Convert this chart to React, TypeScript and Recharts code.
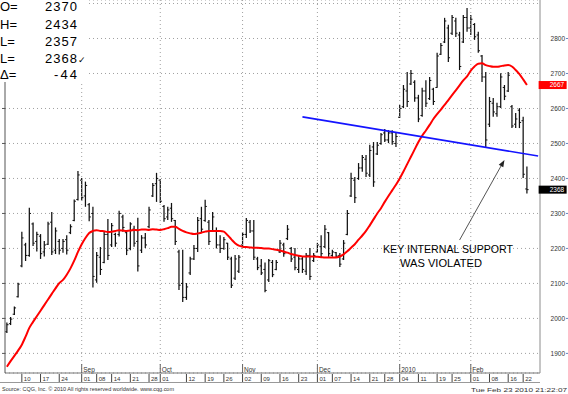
import React from 'react';
import {
  ComposedChart,
  Bar,
  Line,
  XAxis,
  YAxis,
  CartesianGrid,
  ReferenceLine,
  ReferenceDot,
} from 'recharts';

// trading days per month (Aug 2009 - Feb 2010)
const augDays = [4, 5, 6, 7, 10, 11, 12, 13, 14, 17, 18, 19, 20, 21, 24, 25, 26, 27, 28, 31];
const sepDays = [1, 2, 3, 4, 8, 9, 10, 11, 14, 15, 16, 17, 18, 21, 22, 23, 24, 25, 28, 29, 30];
const octDays = [1, 2, 5, 6, 7, 8, 9, 12, 13, 14, 15, 16, 19, 20, 21, 22, 23, 26, 27, 28, 29, 30];
const novDays = [2, 3, 4, 5, 6, 9, 10, 11, 12, 13, 16, 17, 18, 19, 20, 23, 24, 25, 27, 30];
const decDays = [1, 2, 3, 4, 7, 8, 9, 10, 11, 14, 15, 16, 17, 18, 21, 22, 23, 24, 28, 29, 30, 31];
const janDays = [4, 5, 6, 7, 8, 11, 12, 13, 14, 15, 19, 20, 21, 22, 25, 26, 27, 28, 29];
const febDays = [1, 2, 3, 4, 5, 8, 9, 10, 11, 12, 16, 17, 18, 19, 22, 23];

const highs = [
  1988, 2004, 2034, 2102, 2248, 2216, 2316, 2274, 2248, 2241,
  2221, 2276, 2304, 2260, 2227, 2227, 2238, 2269, 2340, 2421,
  2401, 2391, 2330, 2319, 2190, 2204, 2250, 2284, 2273, 2245,
  2308, 2296, 2248, 2275, 2265, 2288, 2238, 2244, 2319, 2387,
  2416, 2398, 2324, 2319, 2330, 2281, 2196, 2196, 2101, 2176,
  2210, 2290, 2319, 2339, 2281, 2304, 2260, 2238, 2233, 2216,
  2176, 2181, 2181, 2247, 2287, 2281, 2281, 2176, 2170, 2160,
  2170, 2167, 2167, 2224, 2216, 2267, 2204, 2201, 2181, 2176,
  2187, 2201, 2187, 2216, 2238, 2267, 2247, 2196, 2190, 2187,
  2224, 2310, 2416, 2404, 2444, 2467, 2467, 2496, 2504, 2504,
  2530, 2541, 2538, 2538, 2533, 2610, 2667, 2704, 2710, 2681,
  2639, 2659, 2681, 2690, 2659, 2759, 2787, 2859, 2839, 2867,
  2859, 2819, 2867, 2887, 2867, 2844, 2819, 2753, 2704, 2633,
  2630, 2616, 2701, 2667, 2704, 2610, 2587, 2601, 2576, 2434,
];

const lows = [
  1958, 1981, 2010, 2060, 2146, 2164, 2176, 2207, 2191, 2170,
  2177, 2210, 2181, 2184, 2183, 2188, 2183, 2241, 2278, 2337,
  2337, 2319, 2278, 2088, 2102, 2124, 2158, 2167, 2204, 2205,
  2234, 2248, 2181, 2195, 2205, 2134, 2187, 2201, 2258, 2347,
  2333, 2330, 2276, 2281, 2276, 2210, 2081, 2047, 2053, 2124,
  2167, 2190, 2247, 2276, 2210, 2247, 2200, 2187, 2196, 2167,
  2087, 2110, 2130, 2204, 2230, 2244, 2167, 2138, 2124, 2075,
  2104, 2118, 2138, 2187, 2176, 2224, 2161, 2138, 2130, 2130,
  2124, 2110, 2161, 2187, 2173, 2201, 2176, 2176, 2173, 2147,
  2167, 2238, 2347, 2330, 2396, 2419, 2404, 2404, 2376, 2467,
  2496, 2504, 2501, 2496, 2490, 2573, 2601, 2604, 2667, 2619,
  2561, 2576, 2604, 2624, 2610, 2659, 2753, 2787, 2733, 2810,
  2804, 2710, 2787, 2819, 2810, 2796, 2759, 2676, 2490, 2547,
  2576, 2576, 2601, 2624, 2647, 2544, 2544, 2544, 2401, 2357,
];

const opens = [
  1962, 1985, 2012, 2062, 2150, 2210, 2180, 2270, 2220, 2235,
  2190, 2212, 2275, 2195, 2220, 2200, 2225, 2245, 2280, 2340,
  2395, 2350, 2325, 2300, 2110, 2175, 2160, 2240, 2210, 2240,
  2240, 2290, 2245, 2200, 2255, 2220, 2195, 2230, 2262, 2350,
  2385, 2395, 2320, 2290, 2315, 2280, 2190, 2100, 2060, 2130,
  2170, 2200, 2285, 2280, 2275, 2250, 2250, 2210, 2200, 2215,
  2170, 2115, 2135, 2210, 2240, 2275, 2250, 2170, 2150, 2140,
  2110, 2160, 2140, 2190, 2210, 2228, 2200, 2175, 2140, 2170,
  2135, 2180, 2165, 2190, 2205, 2205, 2245, 2180, 2188, 2180,
  2170, 2240, 2350, 2395, 2400, 2430, 2455, 2410, 2490, 2470,
  2500, 2530, 2510, 2530, 2500, 2575, 2605, 2650, 2670, 2675,
  2630, 2580, 2650, 2628, 2655, 2660, 2755, 2790, 2830, 2815,
  2850, 2810, 2790, 2860, 2830, 2840, 2810, 2750, 2690, 2555,
  2615, 2585, 2605, 2660, 2650, 2605, 2555, 2595, 2565, 2370,
];

const closes = [
  1982, 1998, 2030, 2098, 2230, 2180, 2300, 2215, 2240, 2185,
  2210, 2270, 2190, 2250, 2195, 2220, 2195, 2262, 2335, 2410,
  2345, 2380, 2290, 2120, 2180, 2140, 2240, 2180, 2265, 2215,
  2300, 2260, 2195, 2270, 2215, 2150, 2230, 2210, 2310, 2380,
  2400, 2335, 2285, 2310, 2285, 2220, 2095, 2060, 2090, 2170,
  2200, 2280, 2255, 2320, 2220, 2290, 2210, 2200, 2225, 2175,
  2095, 2170, 2175, 2240, 2280, 2250, 2175, 2145, 2130, 2080,
  2165, 2125, 2160, 2215, 2185, 2255, 2170, 2145, 2170, 2140,
  2180, 2120, 2180, 2210, 2185, 2255, 2185, 2190, 2178, 2155,
  2215, 2300, 2400, 2345, 2430, 2460, 2415, 2480, 2390, 2495,
  2525, 2510, 2530, 2505, 2520, 2600, 2655, 2620, 2700, 2630,
  2570, 2650, 2615, 2680, 2620, 2750, 2780, 2850, 2745, 2860,
  2815, 2720, 2860, 2830, 2855, 2805, 2765, 2690, 2510, 2620,
  2590, 2605, 2690, 2635, 2695, 2550, 2570, 2560, 2412, 2368,
];

// red moving average
const avg21 = [
  1862, 1878, 1893, 1908, 1925, 1948, 1973, 1990, 2006, 2022,
  2038, 2054, 2070, 2086, 2101, 2110, 2125, 2143, 2165, 2190,
  2212, 2230, 2244, 2250, 2252, 2250, 2249, 2247, 2248, 2250,
  2252, 2251, 2250, 2251, 2253, 2252, 2254, 2254, 2253, 2255,
  2254, 2253, 2255, 2258, 2262, 2262, 2256, 2250, 2246, 2243,
  2241, 2243, 2245, 2248, 2250, 2250, 2250, 2250, 2248, 2238,
  2226, 2215, 2208, 2205, 2204, 2203, 2202, 2202, 2201, 2200,
  2200, 2198, 2196, 2194, 2191, 2188, 2184, 2181, 2179, 2177,
  2177, 2177, 2177, 2176, 2175, 2174, 2174, 2174, 2174, 2177,
  2183, 2192, 2202, 2212, 2225, 2237, 2250, 2266, 2283, 2300,
  2315, 2333, 2350, 2366, 2382, 2400, 2420, 2441, 2462, 2483,
  2504, 2522, 2537, 2553, 2570, 2584, 2597, 2610, 2624, 2638,
  2652, 2666, 2680, 2692, 2708, 2720, 2728, 2729, 2724, 2721,
  2719, 2719, 2721, 2723, 2724, 2720, 2710, 2698, 2683, 2667,
];

const spareSlots = ['pad1', 'pad2', 'pad3'];

const dayTickLabels = [
  'Aug 10', 'Aug 17', 'Aug 24', 'Sep 01', 'Sep 08', 'Sep 14', 'Sep 21', 'Sep 28',
  'Oct 01', 'Oct 12', 'Oct 19', 'Oct 26', 'Nov 02', 'Nov 09', 'Nov 16', 'Nov 23',
  'Dec 01', 'Dec 07', 'Dec 14', 'Dec 21', 'Dec 28', 'Jan 04', 'Jan 11', 'Jan 19',
  'Jan 25', 'Feb 01', 'Feb 08', 'Feb 16', 'Feb 22',
];
const monthStarts = ['Sep 01', 'Oct 01', 'Nov 02', 'Dec 01', 'Jan 04', 'Feb 01'];
const monthNames = ['Sep', 'Oct', 'Nov', 'Dec', '2010', 'Feb'];

const gridTicks = [
  1850, 1900, 1950, 2000, 2050, 2100, 2150, 2200, 2250, 2300, 2350,
  2400, 2450, 2500, 2550, 2600, 2650, 2700, 2750, 2800, 2850, 2900,
];
const priceTicks = [1900, 2000, 2100, 2200, 2300, 2400, 2500, 2600, 2700, 2800];

const supportLine = [
  { x: 'Nov 24', y: 2576 },
  { x: 'pad3', y: 2464 },
];
const arrowLine = [
  { x: 'Jan 27', y: 2224 },
  { x: 'Feb 12', y: 2453 },
];

const lastAvg = 2667;
const lastClose = 2368;

const pad = (d: number) => (d < 10 ? '0' + d : String(d));
const tradingDates = [
  ...augDays.map((d) => 'Aug ' + pad(d)),
  ...sepDays.map((d) => 'Sep ' + pad(d)),
  ...octDays.map((d) => 'Oct ' + pad(d)),
  ...novDays.map((d) => 'Nov ' + pad(d)),
  ...decDays.map((d) => 'Dec ' + pad(d)),
  ...janDays.map((d) => 'Jan ' + pad(d)),
  ...febDays.map((d) => 'Feb ' + pad(d)),
];

const rows: any[] = [
  ...tradingDates.map((date, i) => ({
    date,
    range: [lows[i], highs[i]],
    high: highs[i],
    low: lows[i],
    open: opens[i],
    close: closes[i],
    avg: avg21[i],
  })),
  ...spareSlots.map((date) => ({ date })),
];

const FONT = '"Liberation Sans", Arial, sans-serif';
const DOMAIN: [number, number] = [1844, 2910];

const OhlcBar = (props: any) => {
  const { x, y, width, height, payload } = props;
  if (!payload || payload.high == null) return <g />;
  const top = Math.min(y, y + height);
  const bottom = Math.max(y, y + height);
  const k = (bottom - top) / (payload.high - payload.low || 1);
  const cx = x + width / 2;
  const yo = top + (payload.high - payload.open) * k;
  const yc = top + (payload.high - payload.close) * k;
  return (
    <g stroke="#111" strokeWidth={1.25}>
      <line x1={cx} x2={cx} y1={top} y2={bottom} />
      <line x1={cx - 1.7} x2={cx} y1={yo} y2={yo} strokeWidth={1} />
      <line x1={cx} x2={cx + 1.7} y1={yc} y2={yc} strokeWidth={1} />
    </g>
  );
};

const DateTick = (props: any) => {
  const { x, y, payload } = props;
  const v = payload.value;
  const m = monthStarts.indexOf(v);
  const isDay = dayTickLabels.includes(v);
  return (
    <g fontFamily={FONT} fill="#333">
      {isDay && (
        <>
          <line x1={x} x2={x} y1={y + 1} y2={y + 9} stroke="#444" />
          <text x={x + 2} y={y + 7.5} fontSize={6}>
            {v.slice(4)}
          </text>
        </>
      )}
      {m >= 0 && (
        <>
          <line x1={x} x2={x} y1={y - 9} y2={y} stroke="#666" />
          <text x={x + 1.5} y={y - 1.5} fontSize={6.5}>
            {monthNames[m]}
          </text>
        </>
      )}
    </g>
  );
};

const PriceTick = (props: any) => {
  const { x, y, payload } = props;
  return (
    <g>
      <text x={x + 25} y={y + 2.3} fontSize={6.5} fontFamily={FONT} fill="#333" textAnchor="end">
        {payload.value}
      </text>
      <line x1={x + 26} x2={x + 28} y1={y} y2={y} stroke="#6a86c0" />
    </g>
  );
};

const NoTick = () => <g />;

const priceBox = (fill: string, value: number) => (p: any) => (
  <g>
    <rect x={p.cx + 0.5} y={p.cy - 4} width={28} height={8} fill={fill} />
    <text x={p.cx + 26} y={p.cy + 2.4} fontSize={6.5} fontFamily={FONT} fill="#fff" textAnchor="end">
      {value}
    </text>
  </g>
);

const ArrowShape = (p: any) => {
  const { x1, y1, x2, y2 } = p;
  const ang = Math.atan2(y2 - y1, x2 - x1);
  const len = 7;
  const w = 2.6;
  const bx = x2 - len * Math.cos(ang);
  const by = y2 - len * Math.sin(ang);
  const nx = -Math.sin(ang) * w;
  const ny = Math.cos(ang) * w;
  return (
    <g>
      <line x1={x1} y1={y1} x2={bx} y2={by} stroke="#555" strokeWidth={1} />
      <polygon points={`${x2},${y2} ${bx + nx},${by + ny} ${bx - nx},${by - ny}`} fill="#222" />
    </g>
  );
};

const NoteShape = (p: any) => (
  <g fontFamily={FONT} fontSize={11} fill="#000">
    <text x={p.cx + 2} y={p.cy} textLength={130} lengthAdjust="spacingAndGlyphs">
      KEY INTERNAL SUPPORT
    </text>
    <text x={p.cx + 19} y={p.cy + 14} textLength={82} lengthAdjust="spacingAndGlyphs">
      WAS VIOLATED
    </text>
  </g>
);

export default function App() {
  return (
    <div style={{ position: 'absolute', left: 0, top: 0, width: 568, height: 394, background: '#fff' }}>
      <ComposedChart
        width={568}
        height={394}
        data={rows}
        margin={{ top: 0, right: 0, bottom: 10, left: 0 }}
      >
        <CartesianGrid yAxisId="l" vertical={false} stroke="#a0a0a0" strokeDasharray="1 3" />
        <XAxis
          dataKey="date"
          interval={0}
          tickLine={false}
          tickSize={0}
          tickMargin={0}
          height={11}
          axisLine={{ stroke: '#777' }}
          tick={DateTick}
        />
        <YAxis
          yAxisId="l"
          orientation="left"
          width={5}
          type="number"
          domain={DOMAIN}
          allowDataOverflow
          ticks={gridTicks}
          tick={NoTick}
          tickSize={3}
          tickLine={{ stroke: '#555' }}
          axisLine={{ stroke: '#555' }}
        />
        <YAxis
          yAxisId="r"
          orientation="right"
          width={28}
          type="number"
          domain={DOMAIN}
          allowDataOverflow
          ticks={priceTicks}
          tick={PriceTick}
          tickLine={false}
          tickSize={0}
          tickMargin={0}
          axisLine={{ stroke: '#8c8c8c' }}
        />
        {monthStarts.map((d) => (
          <ReferenceLine key={d} yAxisId="l" x={d} stroke="#a0a0a0" strokeDasharray="1 3" />
        ))}
        <Bar yAxisId="l" dataKey="range" shape={OhlcBar} isAnimationActive={false} />
        <Line
          yAxisId="l"
          dataKey="avg"
          type="monotone"
          stroke="#ff0000"
          strokeWidth={2}
          dot={false}
          isAnimationActive={false}
        />
        <ReferenceLine yAxisId="l" segment={supportLine} stroke="#1414ff" strokeWidth={1.6} ifOverflow="visible" />
        <ReferenceLine yAxisId="l" segment={arrowLine} shape={ArrowShape} ifOverflow="visible" />
        <ReferenceDot yAxisId="l" x="Dec 24" y={2186} r={0} shape={NoteShape} ifOverflow="visible" />
        <ReferenceDot yAxisId="r" x="pad3" y={lastAvg} r={0} shape={priceBox('#ff0000', lastAvg)} ifOverflow="visible" />
        <ReferenceDot yAxisId="r" x="pad3" y={lastClose} r={0} shape={priceBox('#000000', lastClose)} ifOverflow="visible" />
      </ComposedChart>
      <svg
        width={568}
        height={394}
        style={{ position: 'absolute', left: 0, top: 0, pointerEvents: 'none' }}
        fontFamily={FONT}
      >
        <rect x={0} y={0} width={86} height={82} fill="#fff" />
        <g fontSize={13} fill="#000">
          <text x={0} y={11}>O=</text>
          <text x={77} y={11} textAnchor="end" textLength={32}>2370</text>
          <text x={0} y={28.5}>H=</text>
          <text x={77} y={28.5} textAnchor="end" textLength={32}>2434</text>
          <text x={0} y={46}>L=</text>
          <text x={77} y={46} textAnchor="end" textLength={32}>2357</text>
          <text x={0} y={63}>L=</text>
          <text x={77} y={63} textAnchor="end" textLength={32}>2368</text>
          <text x={78} y={63} fontSize={9} fontFamily='"DejaVu Sans", sans-serif'>✓</text>
          <text x={0} y={78.5}>Δ=</text>
          <text x={77} y={78.5} textAnchor="end" textLength={23}>-44</text>
        </g>
        <line x1={0} x2={540} y1={382.5} y2={382.5} stroke="#999" />
        <text x={2} y={391} fontSize={6} fill="#333" textLength={172} lengthAdjust="spacingAndGlyphs">
          Source: CQG, Inc. © 2010 All rights reserved worldwide. www.cqg.com
        </text>
        <text x={567} y={392} fontSize={6} fill="#333" textAnchor="end" textLength={96} lengthAdjust="spacingAndGlyphs">
          Tue Feb 23 2010 21:22:07
        </text>
      </svg>
    </div>
  );
}
